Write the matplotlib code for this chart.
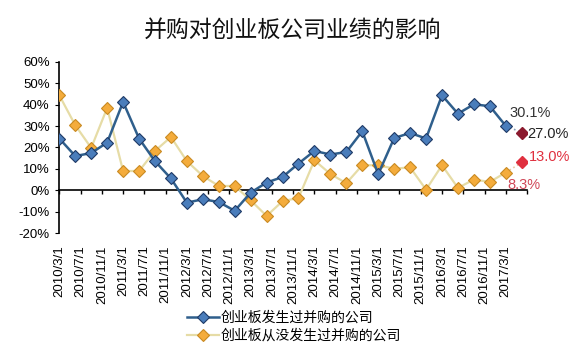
import numpy as np
import matplotlib
matplotlib.use("Agg")
import matplotlib.pyplot as plt

plt.rcParams['font.family'] = ['Liberation Sans', 'Noto Sans CJK SC', 'DejaVu Sans']

# quarterly values, 2010/3 .. 2017/3 (%)
merged = [24.2, 16.0, 17.4, 22.3, 41.3, 24.2, 13.6, 5.5, -5.8, -4.2, -5.5, -9.6,
          -1.1, 3.6, 6.2, 12.5, 18.4, 16.7, 17.9, 27.6, 7.5, 24.4, 26.8, 24.2,
          44.4, 35.8, 40.2, 39.3, 30.1]
no_merge = [44.4, 30.4, 19.8, 38.5, 9.0, 9.0, 18.4, 24.9, 13.6, 6.7, 2.0, 2.0,
            -4.7, -12.0, -5.1, -3.6, 14.0, 7.6, 3.3, 11.7, 11.7, 10.1, 10.7, 0.3,
            11.7, 1.1, 5.0, 3.9, 8.3]
# estimate for the next quarter
merged_next = 27.0
no_merge_next = 13.0

tick_labels = ['2010/3/1', '2010/7/1', '2010/11/1', '2011/3/1', '2011/7/1', '2011/11/1',
               '2012/3/1', '2012/7/1', '2012/11/1', '2013/3/1', '2013/7/1', '2013/11/1',
               '2014/3/1', '2014/7/1', '2014/11/1', '2015/3/1', '2015/7/1', '2015/11/1',
               '2016/3/1', '2016/7/1', '2016/11/1', '2017/3/1']

name_a = '创业板发生过并购的公司'
name_b = '创业板从没发生过并购的公司'
title = '并购对创业板公司业绩的影响'

# x in months since 2010/3/1
x = np.arange(len(merged)) * 3
x_next = len(merged) * 3
tick_pos = np.arange(len(tick_labels) + 1) * 4

fig = plt.figure(figsize=(5.76, 3.52), dpi=100)
ax = fig.add_axes([0.103, 0.338, 0.812, 0.486])

blue_line, blue_face, blue_edge = '#2f5f8c', '#4a7dbb', '#1f3a66'
org_line, org_face, org_edge = '#e6dca6', '#f4ac3c', '#c98a22'

ax.plot([x[-1], x_next], [merged[-1], merged_next], ls=':', color='#8aa0b8', lw=1.2)
ax.plot([x[-1], x_next], [no_merge[-1], no_merge_next], ls=':', color='#e8c8a0', lw=1.2)

ax.plot(x, merged, color=blue_line, lw=1.8, marker='D', ms=5.8,
        mfc=blue_face, mec=blue_edge, mew=0.8, label=name_a, zorder=4)
ax.plot(x, no_merge, color=org_line, lw=1.6, marker='D', ms=5.8,
        mfc=org_face, mec=org_edge, mew=0.8, label=name_b, zorder=3)

ax.plot([x_next], [merged_next], marker='D', ms=5.8, color='#8b1a2e', ls='none', zorder=5)
ax.plot([x_next], [no_merge_next], marker='D', ms=5.8, color='#e0303f', ls='none', zorder=5)

ax.annotate(f'{merged[-1]:.1f}%', (x[-1], merged[-1]), xytext=(4, 13),
            textcoords='offset pixels', ha='left', va='center', fontsize=10.5, color='#333333')
ax.annotate(f'{merged_next:.1f}%', (x_next, merged_next), xytext=(6, -1),
            textcoords='offset pixels', ha='left', va='center', fontsize=10.5, color='#222222')
ax.annotate(f'{no_merge_next:.1f}%', (x_next, no_merge_next), xytext=(7, 5),
            textcoords='offset pixels', ha='left', va='center', fontsize=10.5, color='#e0303f')
ax.annotate(f'{no_merge[-1]:.1f}%', (x[-1], no_merge[-1]), xytext=(2, -12),
            textcoords='offset pixels', ha='left', va='center', fontsize=10.5, color='#d04858')

ax.set_xlim(0, tick_pos[-1])
ax.set_ylim(-20, 60)
ax.set_yticks(np.arange(-20, 61, 10))
ax.set_yticklabels([f'{v}%' for v in range(-20, 61, 10)])
ax.tick_params(axis='y', direction='out', length=3, pad=4, labelsize=9.5)

ax.set_xticks(tick_pos[:-1])
ax.set_xticklabels(tick_labels, rotation=90)
ax.tick_params(axis='x', length=0, pad=9, labelsize=9.5)

for side in ['top', 'right', 'bottom']:
    ax.spines[side].set_visible(False)
ax.spines['left'].set_linewidth(1.2)

# axis line at 0% with its tick marks
zero = ax.secondary_xaxis((0 - (-20)) / 80)
zero.set_xticks(tick_pos)
zero.tick_params(direction='out', length=3, labelbottom=False, width=1)
zero.spines['bottom'].set_linewidth(1.2)

fig.text(0.508, 0.915, title, ha='center', va='center', fontsize=16.5,
         family=['Noto Sans CJK SC'], color='#111111')

ax.legend(loc='upper left', bbox_to_anchor=(0.312, 0.138), bbox_transform=fig.transFigure,
          frameon=False, prop={'family': ['Noto Sans CJK SC'], 'size': 10},
          handlelength=2.3, handletextpad=0.15, labelspacing=0.3, borderpad=0)

fig.savefig('out.png', dpi=100)
